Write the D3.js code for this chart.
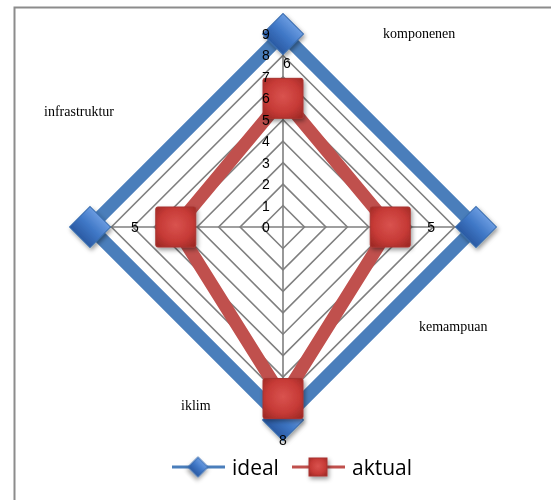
<!DOCTYPE html>
<html>
<head>
<meta charset="utf-8">
<script src="https://cdn.jsdelivr.net/npm/d3@7"></script>
<style>
  body { margin: 0; background: #fff; }
  svg { display: block; }
</style>
</head>
<body>
<svg id="chart" width="551" height="500"></svg>
<script>
// chart data
var categories = ["komponenen", "kemampuan", "iklim", "infrastruktur"];
var ideal = [9, 9, 9, 9];
var aktual = [6, 5, 8, 5];
var ticks = [0, 1, 2, 3, 4, 5, 6, 7, 8, 9];
var seriesNames = ["ideal", "aktual"];

var svg = d3.select("#chart");
var cx = 283, cy = 227; // centre of the radar
var r = d3.scaleLinear().domain([0, 9]).range([0, 193]);

// angle of each category, starting at the top and going clockwise
var angle = function(i){ return i / categories.length * 2 * Math.PI - Math.PI / 2; };
var px = function(i, v){ return cx + Math.cos(angle(i)) * r(v); };
var py = function(i, v){ return cy + Math.sin(angle(i)) * r(v); };

// gradients and shadow for the markers
var defs = svg.append("defs");
var shadow = defs.append("filter").attr("id", "shadow")
    .attr("x", "-50%").attr("y", "-50%").attr("width", "200%").attr("height", "200%");
shadow.append("feDropShadow").attr("dx", 1.5).attr("dy", 2.5).attr("stdDeviation", 2)
    .attr("flood-color", "#000").attr("flood-opacity", 0.4);

var blueGrad = defs.append("linearGradient").attr("id", "blueGrad")
    .attr("x1", 0).attr("y1", 0).attr("x2", 0).attr("y2", 1);
blueGrad.append("stop").attr("offset", "0%").attr("stop-color", "#6a9be0");
blueGrad.append("stop").attr("offset", "50%").attr("stop-color", "#3f77c6");
blueGrad.append("stop").attr("offset", "100%").attr("stop-color", "#2a5aa3");

var redGrad = defs.append("radialGradient").attr("id", "redGrad")
    .attr("cx", "50%").attr("cy", "45%").attr("r", "70%");
redGrad.append("stop").attr("offset", "0%").attr("stop-color", "#d9534f");
redGrad.append("stop").attr("offset", "60%").attr("stop-color", "#c63a36");
redGrad.append("stop").attr("offset", "100%").attr("stop-color", "#9c2824");

// chart frame
svg.append("rect").attr("x", 14.5).attr("y", 7.5).attr("width", 560).attr("height", 520)
    .attr("fill", "none").attr("stroke", "#8c8c8c").attr("stroke-width", 2);

// grid diamonds
var grid = svg.append("g");
ticks.slice(1).forEach(function(t){
    var pts = categories.map(function(c, i){ return [px(i, t), py(i, t)]; });
    grid.append("polygon").attr("points", pts.map(function(p){ return p.join(","); }).join(" "))
        .attr("fill", "none").attr("stroke", "#7f7f7f").attr("stroke-width", 1.6);
});
// spokes
categories.forEach(function(c, i){
    grid.append("line").attr("x1", cx).attr("y1", cy)
        .attr("x2", px(i, 9)).attr("y2", py(i, 9))
        .attr("stroke", "#7f7f7f").attr("stroke-width", 1.6);
});

// series lines
var line = d3.line().x(function(d){ return d[0]; }).y(function(d){ return d[1]; }).curve(d3.curveLinearClosed);
var drawSeries = function(values, color){
    var pts = values.map(function(v, i){ return [px(i, v), py(i, v)]; });
    svg.append("path").attr("d", line(pts)).attr("fill", "none")
        .attr("stroke", color).attr("stroke-width", 13).attr("stroke-linejoin", "miter");
    return pts;
};
var idealPts = drawSeries(ideal, "#4a7ebb");
var idealMarks = svg.append("g").attr("filter", "url(#shadow)");
idealPts.forEach(function(p){
    idealMarks.append("rect").attr("x", -14.5).attr("y", -14.5).attr("width", 29).attr("height", 29)
        .attr("transform", "translate(" + p[0] + "," + p[1] + ") rotate(45)")
        .attr("fill", "url(#blueGrad)").attr("stroke", "#3a6db0").attr("stroke-width", 1);
});
var aktualPts = drawSeries(aktual, "#c0504d");
var aktualMarks = svg.append("g").attr("filter", "url(#shadow)");
aktualPts.forEach(function(p){
    aktualMarks.append("rect").attr("x", p[0] - 20).attr("y", p[1] - 20)
        .attr("width", 40).attr("height", 40).attr("rx", 2)
        .attr("fill", "url(#redGrad)").attr("stroke", "#a83430").attr("stroke-width", 1);
});

// tick labels along the top spoke
svg.append("g").selectAll("text").data(ticks).enter().append("text")
    .attr("x", cx - 17).attr("y", function(d){ return cy - r(d) + 5; })
    .attr("text-anchor", "middle")
    .attr("font-family", "Liberation Sans, Arial, sans-serif").attr("font-size", 14)
    .attr("fill", "#000").text(function(d){ return d; });

// data labels for aktual, placed a little outside each point
aktual.forEach(function(v, i){
    var rr = r(v) + (i === 0 ? 35 : 41);
    svg.append("text")
        .attr("x", cx + Math.cos(angle(i)) * rr + (i === 0 ? 4 : 0))
        .attr("y", cy + Math.sin(angle(i)) * rr + 5)
        .attr("text-anchor", "middle")
        .attr("font-family", "Liberation Sans, Arial, sans-serif").attr("font-size", 14)
        .text(v);
});

// category labels (where Excel left them)
var catPos = [[383, 38], [419, 331], [181, 410], [44, 116]];
categories.forEach(function(c, i){
    svg.append("text").attr("x", catPos[i][0]).attr("y", catPos[i][1])
        .attr("font-family", "Liberation Serif, Times New Roman, serif").attr("font-size", 14)
        .text(c);
});

// legend
var legend = svg.append("g").attr("transform", "translate(172,467)");
var legendItem = function(x, color, name, isSquare){
    var g = legend.append("g").attr("transform", "translate(" + x + ",0)");
    g.append("line").attr("x1", 0).attr("x2", 53).attr("y1", 0).attr("y2", 0)
        .attr("stroke", color).attr("stroke-width", 3);
    if (isSquare) {
        g.append("rect").attr("x", 17).attr("y", -9).attr("width", 18).attr("height", 18)
            .attr("fill", "url(#redGrad)").attr("stroke", "#a83430").attr("filter", "url(#shadow)");
    } else {
        g.append("rect").attr("x", -7).attr("y", -7).attr("width", 14).attr("height", 14)
            .attr("transform", "translate(26,0) rotate(45)")
            .attr("fill", "url(#blueGrad)").attr("stroke", "#3a6db0").attr("filter", "url(#shadow)");
    }
    g.append("text").attr("x", 60).attr("y", 8)
        .attr("font-family", "Open Sans, Liberation Sans, sans-serif").attr("font-size", 21)
        .text(name);
};
legendItem(0, "#4a7ebb", seriesNames[0], false);
legendItem(120, "#c0504d", seriesNames[1], true);
</script>
</body>
</html>
